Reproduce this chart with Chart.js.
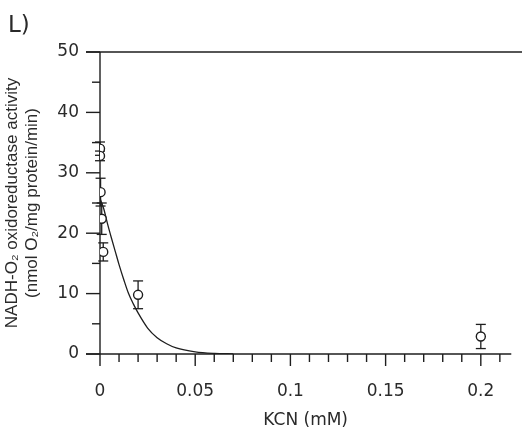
<!DOCTYPE html>
<html>
<head>
  <title>KCN inhibition</title>
  <script src="https://cdn.jsdelivr.net/npm/chart.js"></script>
  <style>
    body {
      margin: 0;
      background-color: white;
    }
    #wrap {
      width: 522px;
      height: 433px;
    }
  </style>
</head>
<body>
  <div id="wrap"><canvas id="kcnChart" width="522" height="433"></canvas></div>

  <script>
    const conc = [0, 0, 0.0003, 0.0009, 0.0017, 0.02, 0.2];
    const activity = [34.0, 32.8, 26.8, 22.4, 16.9, 9.8, 2.9];
    const errors = [1.1, 0.8, 2.3, 2.6, 1.5, 2.3, 2.0];

    // fitted curve as drawn in the figure
    const fitConc = [0, 0.002, 0.004, 0.006, 0.008, 0.01, 0.0125, 0.015, 0.0175, 0.02, 0.025, 0.03, 0.035, 0.04, 0.05, 0.06, 0.07];
    const fitActivity = [25.8, 24.0, 21.5, 19.2, 17.0, 14.8, 12.3, 10.0, 8.3, 6.8, 4.3, 2.7, 1.7, 1.0, 0.35, 0.1, 0.03];

    const xTicks = [0, 0.05, 0.1, 0.15, 0.2];
    const xTickLabels = ['0', '0.05', '0.1', '0.15', '0.2'];
    const xMinorTicks = [0.01, 0.02, 0.03, 0.04, 0.06, 0.07, 0.08, 0.09, 0.11, 0.12, 0.13, 0.14, 0.16, 0.17, 0.18, 0.19, 0.21];
    const yTicks = [0, 10, 20, 30, 40, 50];
    const yTickLabels = ['0', '10', '20', '30', '40', '50'];
    const yMinorTicks = [5, 15, 25, 35, 45];

    const ink = '#1e1e1e';
    const textInk = '#2a2a2a';

    function line(ctx, x1, y1, x2, y2) {
      ctx.beginPath();
      ctx.moveTo(x1, y1);
      ctx.lineTo(x2, y2);
      ctx.stroke();
    }

    const framePlugin = {
      id: 'frame',
      beforeDatasetsDraw(chart) {
        const { ctx, chartArea: a, scales: { x, y } } = chart;
        ctx.save();
        ctx.strokeStyle = ink;
        ctx.lineWidth = 1.4;

        // axes + top line
        line(ctx, a.left - 14, a.top, chart.width, a.top);
        line(ctx, a.left - 14, a.bottom, a.right, a.bottom);
        line(ctx, a.left, a.top, a.left, a.bottom);

        yTicks.forEach(v => {
          const py = y.getPixelForValue(v);
          line(ctx, a.left - 14, py, a.left, py);
        });
        yMinorTicks.forEach(v => {
          const py = y.getPixelForValue(v);
          line(ctx, a.left - 8, py, a.left, py);
        });
        xTicks.forEach(v => {
          const px = x.getPixelForValue(v);
          line(ctx, px, a.bottom, px, a.bottom + 12);
        });
        xMinorTicks.forEach(v => {
          const px = x.getPixelForValue(v);
          line(ctx, px, a.bottom, px, a.bottom + 8);
        });

        // error bars
        ctx.lineWidth = 1.3;
        conc.forEach((c, i) => {
          const px = x.getPixelForValue(c);
          const top = y.getPixelForValue(activity[i] + errors[i]);
          const bot = y.getPixelForValue(activity[i] - errors[i]);
          line(ctx, px, top, px, bot);
          line(ctx, px - 5, top, px + 5, top);
          line(ctx, px - 5, bot, px + 5, bot);
        });
        ctx.restore();
      },
      afterDraw(chart) {
        const ctx = chart.ctx;
        ctx.save();
        ctx.fillStyle = textInk;
        ctx.font = '23px "DejaVu Sans"';
        ctx.textBaseline = 'alphabetic';
        ctx.textAlign = 'left';
        ctx.fillText('L)', 8, 32);
        ctx.restore();
      }
    };

    const tickFont = { family: 'DejaVu Sans', size: 17 };

    new Chart(document.getElementById('kcnChart').getContext('2d'), {
      type: 'scatter',
      data: {
        datasets: [
          {
            label: 'NADH-O2 activity',
            data: conc.map((c, i) => ({ x: c, y: activity[i] })),
            pointRadius: 4.5,
            pointBorderWidth: 1.4,
            pointBackgroundColor: 'white',
            pointBorderColor: ink,
            showLine: false
          },
          {
            label: 'fit',
            type: 'line',
            data: fitConc.map((c, i) => ({ x: c, y: fitActivity[i] })),
            borderColor: ink,
            borderWidth: 1.3,
            pointRadius: 0,
            fill: false,
            cubicInterpolationMode: 'monotone'
          }
        ]
      },
      options: {
        responsive: false,
        animation: false,
        devicePixelRatio: 1,
        layout: { padding: { top: 52, right: 9, bottom: 0, left: 0 } },
        plugins: {
          legend: { display: false },
          tooltip: { enabled: false }
        },
        scales: {
          x: {
            type: 'linear',
            min: 0,
            max: 0.216,
            afterBuildTicks: s => { s.ticks = xTicks.map(v => ({ value: v })); },
            afterFit: s => { s.height = 79; },
            grid: { display: false, drawTicks: false },
            border: { display: false },
            ticks: {
              font: tickFont,
              color: textInk,
              padding: 27,
              maxRotation: 0,
              autoSkip: false,
              callback: (v, i) => xTickLabels[i]
            },
            title: {
              display: true,
              text: 'KCN (mM)',
              font: tickFont,
              color: textInk,
              padding: { top: 0, bottom: 2 }
            }
          },
          y: {
            type: 'linear',
            min: 0,
            max: 50,
            afterBuildTicks: s => { s.ticks = yTicks.map(v => ({ value: v })); },
            afterFit: s => { s.width = 100; },
            grid: { display: false, drawTicks: false },
            border: { display: false },
            ticks: {
              font: tickFont,
              color: textInk,
              padding: 21,
              autoSkip: false,
              callback: (v, i) => yTickLabels[i]
            },
            title: {
              display: true,
              text: ['NADH-O\u2082 oxidoreductase activity', '(nmol O\u2082/mg protein/min)'],
              font: { family: 'Liberation Sans', size: 17, lineHeight: 1.15 },
              color: textInk,
              padding: { top: 3, bottom: 0 }
            }
          }
        }
      },
      plugins: [framePlugin]
    });
  </script>
</body>
</html>
